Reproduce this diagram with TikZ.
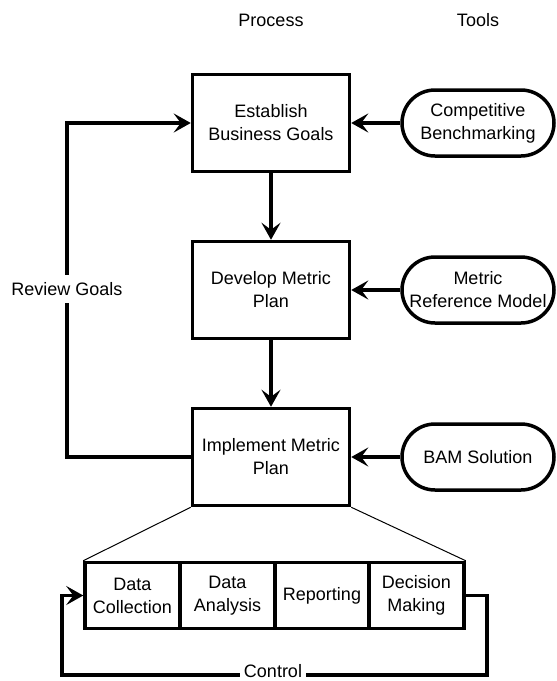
\documentclass[tikz,border=0pt]{standalone}
\usepackage{fontspec}
\setmainfont{Liberation Sans}
\usetikzlibrary{arrows.meta}

\begin{document}
\begin{tikzpicture}[x=1pt,y=-1pt,
  every node/.style={font=\fontsize{18}{23}\selectfont,align=center},
  proc/.style={draw,line width=3.5pt,minimum width=157pt,minimum height=97pt,inner sep=0pt},
  tool/.style={draw,line width=3.5pt,rounded corners=33pt,minimum width=152pt,minimum height=66pt,inner sep=0pt},
  cell/.style={draw,line width=3.5pt,minimum width=95pt,minimum height=66pt,inner sep=0pt},
  flow/.style={line width=3.5pt,-{Stealth[length=17pt,width=19pt,inset=7pt]}},
  fan/.style={line width=1pt}]

\useasboundingbox (0,0) rectangle (557,681);

\node (process) at (271,20) {Process};
\node (tools) at (478,20) {Tools};

\node[proc] (goals) at (271,123) {Establish\\Business Goals};
\node[proc] (develop) at (271,290) {Develop Metric\\Plan};
\node[proc] (implement) at (271,457) {Implement Metric\\Plan};

\node[tool] (bench) at (478,123) {Competitive\\Benchmarking};
\node[tool] (refmodel) at (478,290) {Metric\\Reference Model};
\node[tool] (bam) at (478,457) {BAM Solution};

\node[cell] (collect) at (132.5,595.5) {Data\\Collection};
\node[cell] (analyse) at (227.5,595.5) {Data\\Analysis};
\node[cell] (report) at (322,595.5) {Reporting};
\node[cell] (decide) at (416.5,595.5) {Decision\\Making};

\draw[flow] (goals.south) -- (develop.north);
\draw[flow] (develop.south) -- (implement.north);
\draw[flow] (bench.west) -- (goals.east);
\draw[flow] (refmodel.west) -- (develop.east);
\draw[flow] (bam.west) -- (implement.east);

\coordinate (rg1) at (67,457);
\coordinate (rg2) at (67,123);
\draw[flow] (implement.west) -- (rg1) -- (rg2) -- (goals.west);
\node[fill=white,inner xsep=1pt,inner ysep=7pt] (review) at (67,289) {Review Goals};

\draw[fan] (implement.south west) -- (collect.north west);
\draw[fan] (implement.south east) -- (decide.north east);

\coordinate (c1) at (487,675);
\coordinate (c2) at (62,675);
\draw[flow] (decide.east) -| (c1) -- (c2) |- (collect.west);
\node[fill=white,inner xsep=3.5pt,inner ysep=1pt,anchor=base] (control) at (273,677.5) {Control};

\end{tikzpicture}
\end{document}
